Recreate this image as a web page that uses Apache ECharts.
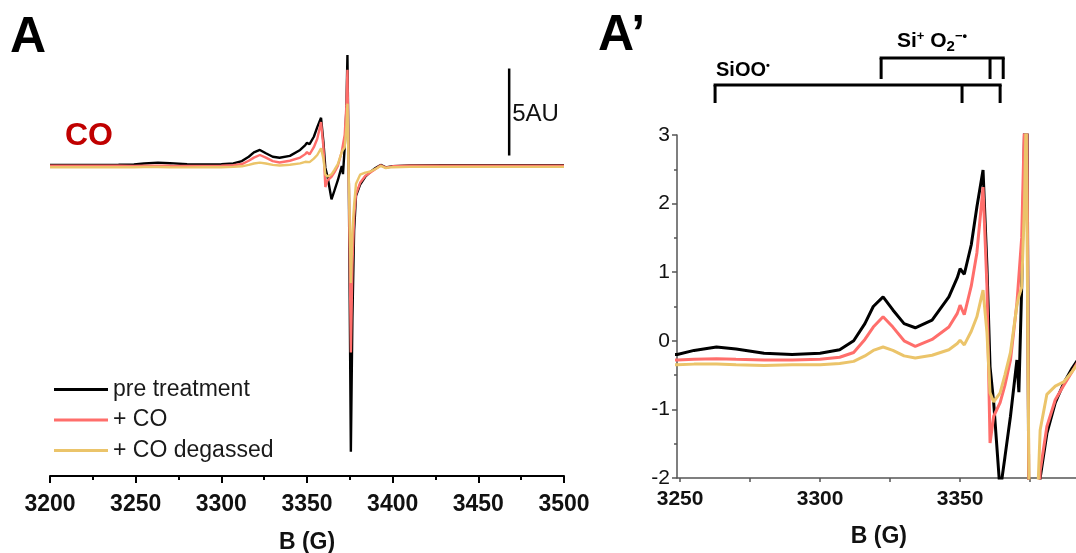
<!DOCTYPE html>
<html>
<head>
<meta charset="utf-8">
<script src="https://cdn.jsdelivr.net/npm/echarts@6/dist/echarts.min.js"></script>
<style>
html,body{margin:0;padding:0;background:#fff;}
#chart{width:1076px;height:553px;}
</style>
</head>
<body>
<div id="chart"></div>
<script>
// Magnetic field B (G)
const fieldG = [3200, 3220, 3240, 3249, 3255, 3263, 3270, 3280, 3290, 3300, 3307, 3312, 3316, 3319, 3322.5, 3326, 3330, 3334, 3340, 3346, 3349, 3350, 3351.5, 3354, 3356, 3358.2, 3359.6, 3360.7, 3362, 3364.3, 3366, 3368, 3370.3, 3371, 3372, 3373, 3373.6, 3374.4, 3375.6, 3376.5, 3377.5, 3378.6, 3381, 3384, 3387, 3390, 3393, 3396, 3400, 3410, 3430, 3460, 3500];
const preTreatment = [-0.22, -0.22, -0.21, -0.20, -0.14, -0.09, -0.12, -0.18, -0.20, -0.18, -0.13, 0.00, 0.25, 0.50, 0.64, 0.45, 0.25, 0.19, 0.30, 0.64, 0.92, 1.05, 0.97, 1.40, 1.95, 2.49, 1.08, -0.38, -0.90, -2.20, -1.70, -1.10, -0.28, -0.75, 0.78, 3.0, 6.1, -1.0, -16.7, -9.0, -4.0, -2.0, -1.35, -0.90, -0.62, -0.40, -0.22, -0.36, -0.30, -0.25, -0.24, -0.24, -0.24];
const plusCO = [-0.27, -0.27, -0.27, -0.28, -0.27, -0.26, -0.27, -0.28, -0.28, -0.27, -0.24, -0.17, 0.02, 0.20, 0.35, 0.20, 0.00, -0.08, 0.02, 0.20, 0.40, 0.52, 0.38, 0.80, 1.28, 2.24, 0.79, -1.49, -1.10, -0.90, -0.65, -0.28, 0.55, 0.55, 1.5, 3.2, 5.25, -1.0, -11.0, -6.0, -3.2, -1.9, -1.25, -0.86, -0.65, -0.45, -0.24, -0.38, -0.30, -0.27, -0.26, -0.26, -0.26];
const plusCODegassed = [-0.35, -0.35, -0.35, -0.35, -0.34, -0.34, -0.35, -0.36, -0.35, -0.35, -0.33, -0.30, -0.22, -0.14, -0.09, -0.14, -0.22, -0.25, -0.21, -0.13, -0.04, 0.01, -0.06, 0.14, 0.35, 0.74, 0.12, -0.76, -0.89, -0.76, -0.50, -0.17, 0.52, 0.65, 0.78, 2.0, 3.3, -1.0, -7.0, -4.0, -2.5, -1.3, -0.78, -0.66, -0.60, -0.45, -0.28, -0.40, -0.35, -0.33, -0.33, -0.33, -0.33];
const seriesNames = ['pre treatment', '+ CO', '+ CO degassed'];
const seriesColors = ['#000000', '#ff6e6b', '#ebc46a'];
// Tick labels
const leftTicks = [3200, 3250, 3300, 3350, 3400, 3450, 3500];
const rightTickLabels = [3250, 3300, 3350];
const rightTicks = [3250, 3275, 3300, 3325, 3350, 3375];
// Annotation brackets (field positions, G)
const siooBracket = [3262.5, 3350.7, 3364.3];
const sio2Bracket = [3321.8, 3360.7, 3365.4];
// 5 AU scale bar (intensity values)
const scaleBar = {x: 3468, bottom: 0.32, length: 5};

const allY = [preTreatment, plusCO, plusCODegassed];
const pairs = ys => fieldG.map((x, i) => [x, ys[i]]);

const chart = echarts.init(document.getElementById('chart'), null, {renderer: 'canvas'});
const FONT = 'Liberation Sans, Arial, sans-serif';
const plain = v => String(v);

const series = [];
allY.forEach((ys, i) => {
  series.push({
    name: seriesNames[i], type: 'line', xAxisIndex: 0, yAxisIndex: 0,
    data: pairs(ys), showSymbol: false, symbol: 'none',
    lineStyle: {color: seriesColors[i], width: 2.4}, itemStyle: {color: seriesColors[i]},
    z: 2 + i
  });
});
allY.forEach((ys, i) => {
  series.push({
    name: seriesNames[i], type: 'line', xAxisIndex: 1, yAxisIndex: 1,
    data: pairs(ys), showSymbol: false, symbol: 'none', clip: true,
    lineStyle: {color: seriesColors[i], width: 3}, itemStyle: {color: seriesColors[i]},
    z: 2 + i
  });
});

const option = {
  animation: false,
  backgroundColor: '#fff',
  textStyle: {fontFamily: FONT},
  grid: [
    {left: 50, top: 39.3, width: 514, height: 436.7, containLabel: false, outerBoundsMode: 'none'},
    {left: 677, top: 135, width: 399, height: 343, containLabel: false, outerBoundsMode: 'none'}
  ],
  legend: {
    data: seriesNames, orient: 'vertical', left: 49, top: 373,
    icon: 'rect', itemWidth: 54, itemHeight: 3, itemGap: 7.5,
    textStyle: {fontSize: 23, color: '#1a1a1a', fontFamily: FONT, lineHeight: 22},
    selectedMode: false
  },
  xAxis: [
    {
      type: 'value', gridIndex: 0, min: 3200, max: 3500, interval: 50,
      axisLine: {show: true, onZero: false, lineStyle: {color: '#000', width: 2}},
      axisTick: {show: true, inside: false, length: 7, lineStyle: {color: '#000', width: 2}},
      minorTick: {show: true, splitNumber: 2, length: 4, lineStyle: {color: '#000', width: 2}},
      axisLabel: {fontSize: 23, fontWeight: 'bold', color: '#111', margin: 17, fontFamily: FONT,
        customValues: leftTicks, formatter: plain},
      splitLine: {show: false}
    },
    {
      type: 'value', gridIndex: 1, min: 3248.9, max: 3391.4,
      axisLine: {show: true, onZero: false, lineStyle: {color: '#555', width: 1.5}},
      axisTick: {show: true, inside: false, length: 4, customValues: rightTicks, lineStyle: {color: '#555', width: 1.5}},
      axisLabel: {fontSize: 21, fontWeight: 'bold', color: '#111', margin: 10.5, fontFamily: FONT,
        customValues: rightTickLabels, formatter: plain},
      splitLine: {show: false}
    }
  ],
  yAxis: [
    {type: 'value', gridIndex: 0, min: -18.1, max: 7, show: false},
    {
      type: 'value', gridIndex: 1, min: -2, max: 3, interval: 1,
      axisLine: {show: true, onZero: false, lineStyle: {color: '#555', width: 1.5}},
      axisTick: {show: true, inside: false, length: 5, lineStyle: {color: '#555', width: 1.5}},
      minorTick: {show: true, splitNumber: 2, length: 3, lineStyle: {color: '#555', width: 1.5}},
      axisLabel: {fontSize: 21, color: '#111', margin: 7, fontFamily: FONT, formatter: plain},
      splitLine: {show: false}
    }
  ],
  series: series
};
chart.setOption(option);

// Annotations built from field values through the axes
function px(v) { return chart.convertToPixel({xAxisIndex: 1}, v); }
function bracket(vals, yTop, yBottom) {
  const xs = vals.map(px);
  const els = [];
  els.push({type: 'line', shape: {x1: xs[0], y1: yTop, x2: xs[xs.length - 1], y2: yTop},
    style: {stroke: '#000', lineWidth: 3, lineCap: 'square'}});
  xs.forEach(x => els.push({type: 'line', shape: {x1: x, y1: yTop, x2: x, y2: yBottom},
    style: {stroke: '#000', lineWidth: 3}}));
  return els;
}
const scaleBarX = chart.convertToPixel({xAxisIndex: 0}, scaleBar.x);
const scaleBarBot = chart.convertToPixel({yAxisIndex: 0}, scaleBar.bottom);
const scaleBarTop = chart.convertToPixel({yAxisIndex: 0}, scaleBar.bottom + scaleBar.length);
const leftMid = chart.convertToPixel({xAxisIndex: 0}, 3350);
const rightMid = chart.convertToPixel({xAxisIndex: 1}, 3321);

const graphics = [
  {type: 'text', left: 10, top: 13, style: {text: 'A', font: 'bold 50px ' + FONT, fill: '#000'}},
  {type: 'text', left: 598, top: 11, style: {text: 'A\u2019', font: 'bold 50px ' + FONT, fill: '#000'}},
  {type: 'text', left: 65, top: 120, style: {text: 'CO', font: 'bold 32px ' + FONT, fill: '#c00000'}},
  {type: 'line', shape: {x1: scaleBarX, y1: scaleBarTop, x2: scaleBarX, y2: scaleBarBot},
    style: {stroke: '#000', lineWidth: 2.5}},
  {type: 'text', left: scaleBarX + 3, top: 102, style: {text: '5AU', font: '24px ' + FONT, fill: '#111'}},
  {type: 'text', x: leftMid, y: 543, style: {text: 'B (G)', font: 'bold 23px ' + FONT, fill: '#111', align: 'center', verticalAlign: 'middle'}},
  {type: 'text', x: rightMid, y: 537, style: {text: 'B (G)', font: 'bold 23px ' + FONT, fill: '#111', align: 'center', verticalAlign: 'middle'}},
  {type: 'text', left: 716, top: 60, style: {
    text: '{b|SiOO}{s|\u2022}',
    rich: {b: {font: 'bold 20px ' + FONT, fill: '#000'}, s: {font: 'bold 11px ' + FONT, fill: '#000', verticalAlign: 'top', padding: [0, 0, 10, 0]}}
  }},
  {type: 'text', left: 897, top: 30, style: {
    text: '{b|Si}{s|+}{b| O}{u|2}{s|\u2212\u2022}',
    rich: {
      b: {font: 'bold 21px ' + FONT, fill: '#000'},
      s: {font: 'bold 13px ' + FONT, fill: '#000', padding: [0, 0, 10, 0]},
      u: {font: 'bold 15px ' + FONT, fill: '#000', padding: [10, 0, 0, 0]}
    }
  }}
].concat(bracket(siooBracket, 85, 103), bracket(sio2Bracket, 58, 79));
chart.setOption({graphic: graphics});
</script>
</body>
</html>
